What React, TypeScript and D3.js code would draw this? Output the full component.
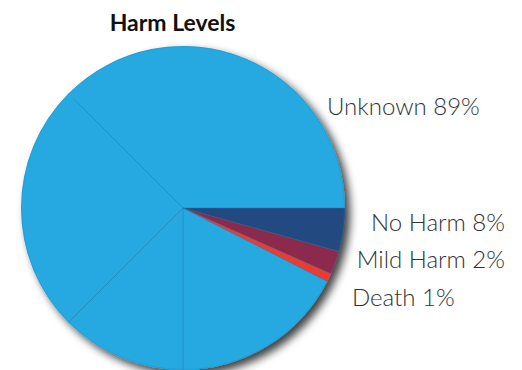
import React from "react";
import * as d3 from "d3";

// Slice shares as drawn (percent of the full circle), clockwise from 3 o'clock
const categories = ["No Harm", "Mild Harm", "Death", "Unknown", "Unknown", "Unknown", "Unknown"];
const shares = [4.33, 2.33, 0.83, 17.51, 12.5, 25, 37.5];
const colorKeys = ["No Harm", "Mild Harm", "Death", "Unknown"];
const colorValues = ["#234a80", "#8c2a4e", "#ee3b33", "#27a8e0"];

// Labels shown beside the pie
const labelTexts = ["Unknown 89%", "No Harm 8%", "Mild Harm 2%", "Death 1%"];

const title = "Harm Levels";

const W = 522;
const H = 370;

export default function App() {
  const cx = 183;
  const cy = 208;
  const r = 162;

  const color = d3.scaleOrdinal<string, string>().domain(colorKeys).range(colorValues);
  const data = categories.map((c, i) => ({ c, v: shares[i] }));
  const pie = d3
    .pie<{ c: string; v: number }>()
    .value((d) => d.v)
    .sort(null)
    .startAngle(Math.PI / 2)
    .endAngle(Math.PI / 2 + 2 * Math.PI);
  const arcs = pie(data);
  const arc = d3.arc<any>().innerRadius(0).outerRadius(r);
  const seam = d3.arc<any>().innerRadius(0).outerRadius(r - 0.5);

  const labelLayout = [
    { x: 327, y: 115, anchor: "start" },
    { x: 505, y: 231, anchor: "end" },
    { x: 505, y: 268, anchor: "end" },
    { x: 352, y: 306, anchor: "start" },
  ];

  return (
    <div style={{ position: "fixed", left: 0, top: 0 }}>
      <svg width={W} height={H} style={{ display: "block", background: "#fff" }}>
        <defs>
          <filter id="sh" x="-20%" y="-20%" width="140%" height="140%">
            <feDropShadow dx="5" dy="5" stdDeviation="4.5" floodColor="#000" floodOpacity="0.75" />
          </filter>
        </defs>
        <g transform={`translate(${cx},${cy})`}>
          <g filter="url(#sh)">
            {arcs.map((a, i) => (
              <path key={i} d={arc(a) as string} fill={color(a.data.c)} />
            ))}
          </g>
          {arcs.map((a, i) => (
            <path
              key={"s" + i}
              d={seam(a) as string}
              fill="none"
              stroke="#1d7fae"
              strokeOpacity={0.45}
              strokeWidth={0.6}
            />
          ))}
        </g>
        <text
          x={172.5}
          y={31}
          textAnchor="middle"
          fontFamily="Lato"
          fontWeight={700}
          fontSize={23}
          fill="#111"
        >
          {title}
        </text>
        {labelTexts.map((t, i) => (
          <text
            key={t}
            x={labelLayout[i].x}
            y={labelLayout[i].y}
            textAnchor={labelLayout[i].anchor as any}
            fontFamily="Lato"
            fontWeight={300}
            fontSize={24}
            fill="#333"
          >
            {t}
          </text>
        ))}
      </svg>
    </div>
  );
}
